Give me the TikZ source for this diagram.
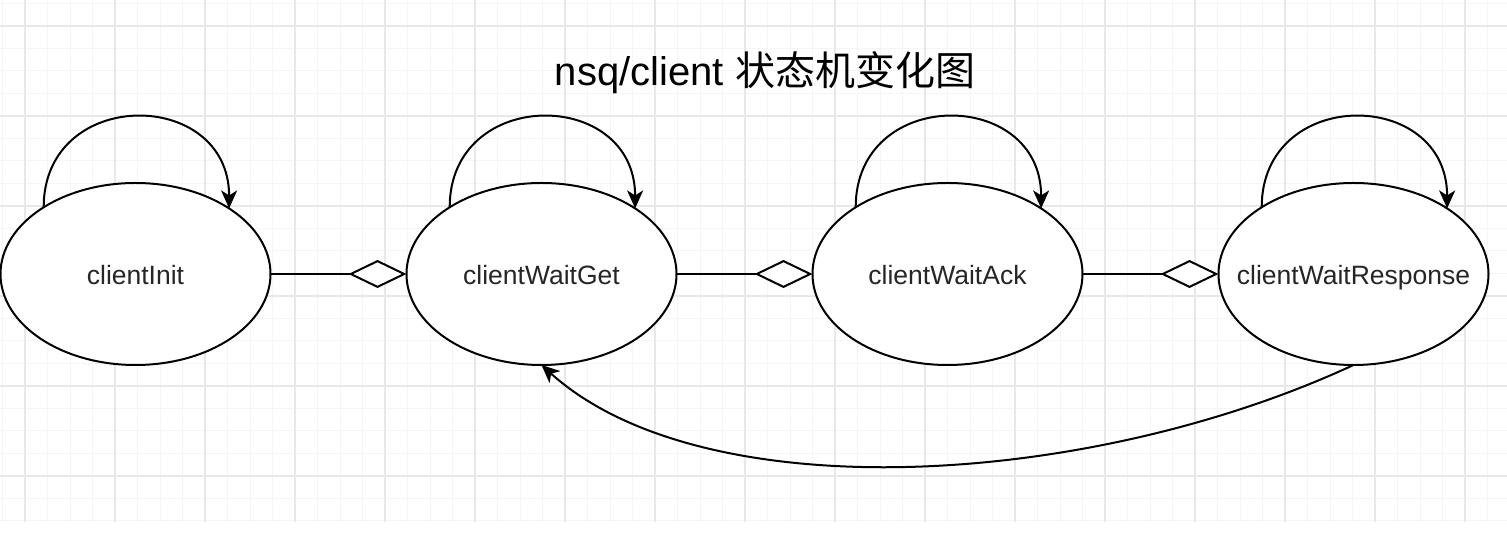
\documentclass[tikz,border=0pt]{standalone}
\usepackage{fontspec}
\setmainfont{Liberation Sans}
\newfontfamily\cjk{Noto Sans CJK SC}
\usepackage{tikz}
\usetikzlibrary{arrows.meta,matrix,positioning,shapes.geometric}

\begin{document}
\begin{tikzpicture}[x=0.5pt,y=0.5pt,
	every matrix/.style={ampersand replacement=\&,column sep=67pt},
	state/.style={ellipse,draw,fill=white,line width=1pt,minimum width=135pt,minimum height=91pt,inner sep=0pt,outer sep=0pt},
	every label/.style={font=\fontsize{13.25}{15}\selectfont,text=black!85,text height=11pt,text depth=0pt},
	trans/.style={-{Stealth[length=9pt,width=8pt,inset=2.5pt]},line width=1pt},
	agg/.style={-{Diamond[open,fill=white,length=29pt,width=14pt]},line width=1pt},
	minorgrid/.style={draw=black!4,line width=0.5pt},
	majorgrid/.style={draw=black!9,line width=0.75pt}]
\useasboundingbox[fill=white] (0,0) rectangle (1507,545);

% background grid
\draw[minorgrid,shift={(25,69)},step=22.5] (-25,-46) grid (1482,476);
\draw[majorgrid,shift={(25,69)},step=90] (-25,-46) grid (1482,476);

\node[font=\fontsize{20}{24}\selectfont] (title) at (765,472) {nsq/client {\cjk 状态机变化图}};

\matrix (row) at (744.5,271) {
	\node[state,label=center:clientInit] (a) {};
	  \& \node[state,label=center:clientWaitGet] (b) {};
	  \& \node[state,label=center:clientWaitAck] (c) {};
	  \& \node[state,label=center:clientWaitResponse] (d) {}; \\
};

\draw[agg] (a) -- (b);
\draw[agg] (b) -- (c);
\draw[agg] (c) -- (d);

\draw[trans] (a.144) .. controls +(0,121) and +(0,121) .. (a.35);
\draw[trans] (b.144) .. controls +(0,121) and +(0,121) .. (b.35);
\draw[trans] (c.144) .. controls +(0,121) and +(0,121) .. (c.35);
\draw[trans] (d.144) .. controls +(0,121) and +(0,121) .. (d.35);

\draw[trans] (d.south) .. controls +(-265,-123) and +(162,-146) .. (b.south);

\end{tikzpicture}
\end{document}
